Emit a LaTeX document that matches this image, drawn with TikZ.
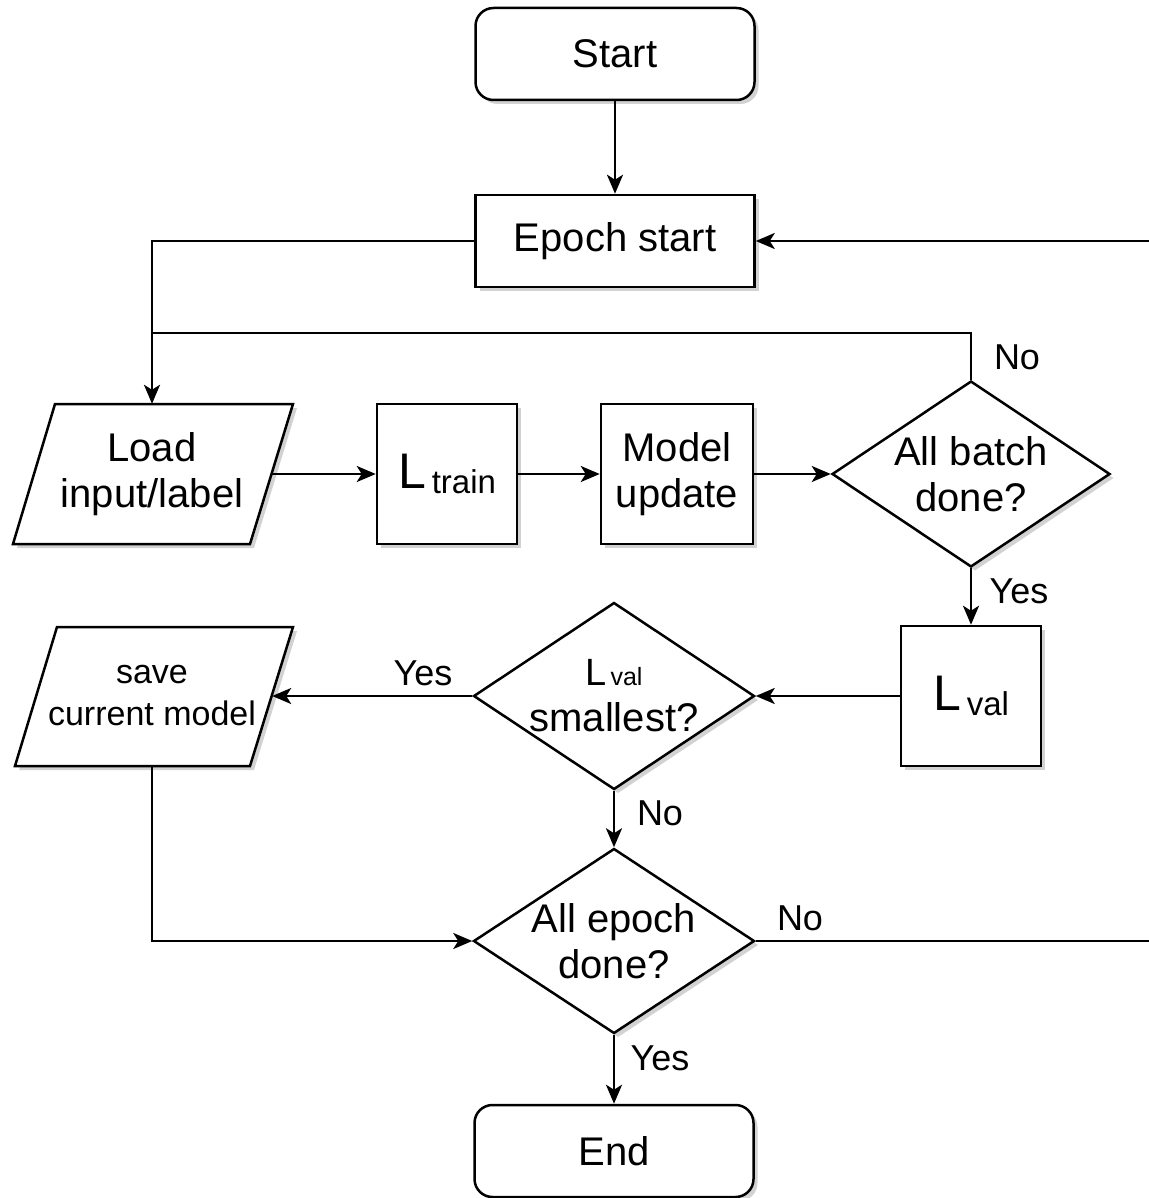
\documentclass[tikz,border=0pt]{standalone}
\usepackage{fontspec}
\setmainfont{Liberation Sans}
\usetikzlibrary{arrows.meta,shapes.geometric,shadows}
\begin{document}
\begin{tikzpicture}[x=1pt,y=-1pt,
  every node/.style={font=\fontsize{40}{46}\selectfont, align=center},
  shshadow/.style={drop shadow={opacity=0.25, shadow xshift=4pt, shadow yshift=-4pt, fill=black!70}},
  box/.style={draw, line width=2.5pt, fill=white, shshadow, inner sep=0pt},
  term/.style={box, rounded corners=18pt, minimum width=279pt, minimum height=92pt},
  proc/.style={box},
  dec/.style={box, diamond},
  para/.style={draw, line width=2.5pt, fill=white, shshadow},
  ghost/.style={inner sep=0pt, minimum width=240pt, minimum height=140pt},
  lab/.style={font=\fontsize{36}{40}\selectfont, inner sep=0pt},
  line/.style={line width=2.6pt},
  arr/.style={line, -{Stealth[length=19pt, width=16pt, inset=5pt]}},
  tinylab/.style={font=\fontsize{34}{42}\selectfont}
]
\useasboundingbox[fill=white] (0,0) rectangle (1148,1198);

% nodes
\node[term] (start) at (615,54) {Start};
\node[proc, minimum width=279pt, minimum height=92pt] (epoch) at (615,241) {Epoch start};

\path[para] (55,404) -- (293,404) -- (250,544) -- (13,544) -- cycle;
\node[ghost] (load) at (152,474) {Load\\input/label};

\node[proc, minimum width=140pt, minimum height=140pt] (ltrain) at (447,474)
  {{\fontsize{50}{50}\selectfont L}\hspace{6pt}{\fontsize{33}{33}\selectfont\raisebox{-5pt}{train}}};
\node[proc, minimum width=152pt, minimum height=140pt] (model) at (677,474) {Model\\update};
\node[dec, minimum width=278pt, minimum height=186pt, label={center:All batch\\done?}] (batch) at (971,474) {};

\node[proc, minimum width=140pt, minimum height=140pt] (lval) at (971,696)
  {{\fontsize{50}{50}\selectfont L}\hspace{6pt}{\fontsize{33}{33}\selectfont\raisebox{-5pt}{val}}};
\node[dec, minimum width=281pt, minimum height=187pt,
  label={center:{\fontsize{38}{38}\selectfont L}\hspace{4pt}{\fontsize{25}{25}\selectfont val}\\smallest?}] (small) at (614,696) {};

\path[para] (57,627) -- (293,627) -- (250,766) -- (15,766) -- cycle;
\node[ghost, minimum height=139pt, tinylab] (save) at (152,696) {save\\current model};

\node[dec, minimum width=281pt, minimum height=185pt, label={center:All epoch\\done?}] (edone) at (614,941) {};
\node[term] (end) at (614,1151) {End};

\coordinate (join) at (152,333);
\coordinate (rt1) at (1165,941);
\coordinate (rt2) at (1165,241);

% connectors
\draw[arr] (start) -- (epoch);
\draw[arr] (epoch.west) -| (load.north);
\draw[line] (batch.north) |- (join);
\draw[arr] (load.east) -- (ltrain.west);
\draw[arr] (ltrain) -- (model);
\draw[arr] (model) -- (batch);
\draw[arr] (batch.south) -- (lval.north);
\draw[arr] (lval.west) -- (small.east);
\draw[arr] (small.west) -- (save.east);
\draw[arr] (small.south) -- (edone.north);
\draw[arr] (save.south) |- (edone.west);
\draw[arr] (edone.south) -- (end.north);
\draw[arr] (edone.east) -- (rt1) -- (rt2) -- (epoch.east);

% labels
\node[lab] (l1) at (1017,357) {No};
\node[lab] (l2) at (1019,591) {Yes};
\node[lab] (l3) at (423,673) {Yes};
\node[lab] (l4) at (660,813) {No};
\node[lab] (l5) at (800,918) {No};
\node[lab] (l6) at (660,1058) {Yes};
\end{tikzpicture}
\end{document}
